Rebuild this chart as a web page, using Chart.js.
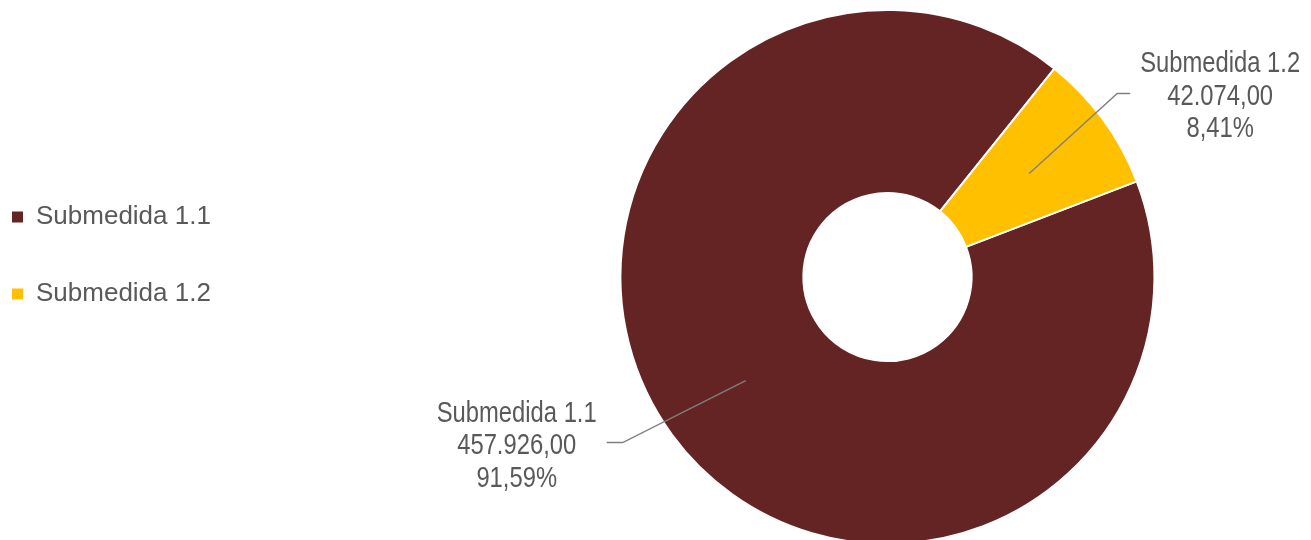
<!DOCTYPE html>
<html>
<head>
<meta charset="utf-8">
<script src="https://cdn.jsdelivr.net/npm/chart.js@4.4.1/dist/chart.umd.min.js"></script>
<style>
  html, body { margin: 0; padding: 0; background: #ffffff; overflow: hidden; }
  #wrap { position: relative; width: 1311px; height: 550px; }
</style>
</head>
<body>
<div id="wrap"><canvas id="c"></canvas></div>
<script>
// ---- data ----
const categories = ['Submedida 1.1', 'Submedida 1.2'];
const values = [457926.00, 42074.00];
const sliceColors = ['#632423', '#FFC000'];

// ---- styles ----
const textColor = '#595959';
const labelStyle = {
  font: '29px "Liberation Sans Narrow", "Arial Narrow", "Liberation Sans", Arial, sans-serif',
  lineColor: '#7F7F7F',
  lineHeight: 32.5,
  gap: 10,
  // leader line: elbow offset from slice centroid, then horizontal tail
  leaders: [ { dx: -123, dy: 62, tail: -16 }, { dx: 88, dy: -80, tail: 13 } ]
};
const legendSpot = { x: 12, y: 204 };

function fmtNum(v) {
  const fixed = v.toFixed(2);
  const [ip, dp] = fixed.split('.');
  return ip.replace(/\B(?=(\d{3})+(?!\d))/g, '.') + ',' + dp;
}
function fmtPct(p) { return p.toFixed(2).replace('.', ',') + '%'; }

const sliceLabels = {
  id: 'sliceLabels',
  afterDatasetsDraw(chart) {
    const ctx = chart.ctx;
    const meta = chart.getDatasetMeta(0);
    const data = chart.data.datasets[0].data;
    const total = data.reduce((a, b) => a + b, 0);
    ctx.save();
    ctx.font = labelStyle.font;
    let sx = 1;
    if (ctx.measureText('Submedida 1.2').width > 172) sx = 0.82;
    meta.data.forEach((arc, i) => {
      const p = arc.getCenterPoint();
      const L = labelStyle.leaders[i];
      const ex = p.x + L.dx, ey = p.y + L.dy;
      const tx = ex + L.tail;
      ctx.beginPath();
      ctx.moveTo(p.x, p.y);
      ctx.lineTo(ex, ey);
      ctx.lineTo(tx, ey);
      ctx.strokeStyle = labelStyle.lineColor;
      ctx.lineWidth = 1.4;
      ctx.stroke();
      const lines = [chart.data.labels[i], fmtNum(data[i]), fmtPct(data[i] / total * 100)];
      const maxW = Math.max(...lines.map(t => ctx.measureText(t).width * sx));
      const dir = L.tail >= 0 ? 1 : -1;
      const cx = tx + dir * (labelStyle.gap + maxW / 2);
      const cy = ey + 3.5;
      ctx.fillStyle = textColor;
      ctx.textAlign = 'center';
      ctx.textBaseline = 'middle';
      lines.forEach((t, k) => {
        ctx.save();
        ctx.translate(cx, cy + (k - 1) * labelStyle.lineHeight);
        ctx.scale(sx, 1);
        ctx.fillText(t, 0, 0);
        ctx.restore();
      });
    });
    ctx.restore();
  }
};

const legendPlace = {
  id: 'legendPlace',
  afterLayout(chart) {
    const lg = chart.legend;
    if (!lg) return;
    const pad = lg.options.labels.padding;
    const w = lg.width, h = lg.height;
    lg.left = legendSpot.x - pad; lg.right = lg.left + w;
    lg.top = legendSpot.y - pad; lg.bottom = lg.top + h;
  }
};

new Chart(document.getElementById('c'), {
  type: 'doughnut',
  data: {
    labels: categories,
    datasets: [{
      data: values,
      backgroundColor: sliceColors,
      borderColor: '#ffffff',
      borderWidth: 2,
      hoverOffset: 0
    }]
  },
  options: {
    responsive: true,
    maintainAspectRatio: false,
    animation: false,
    rotation: 69,
    cutout: '31.5%',
    layout: { padding: { top: 9, bottom: 5, left: 204, right: 0 } },
    plugins: {
      tooltip: { enabled: false },
      legend: {
        position: 'left',
        align: 'start',
        labels: {
          boxWidth: 11,
          boxHeight: 11,
          padding: 51,
          color: textColor,
          font: { size: 26, family: '"Liberation Sans", Arial, sans-serif' },
          generateLabels(chart) {
            const items = Chart.overrides.doughnut.plugins.legend.labels.generateLabels(chart);
            items.forEach(it => { it.lineWidth = 0; });
            return items;
          }
        }
      }
    }
  },
  plugins: [legendPlace, sliceLabels]
});
</script>
</body>
</html>
